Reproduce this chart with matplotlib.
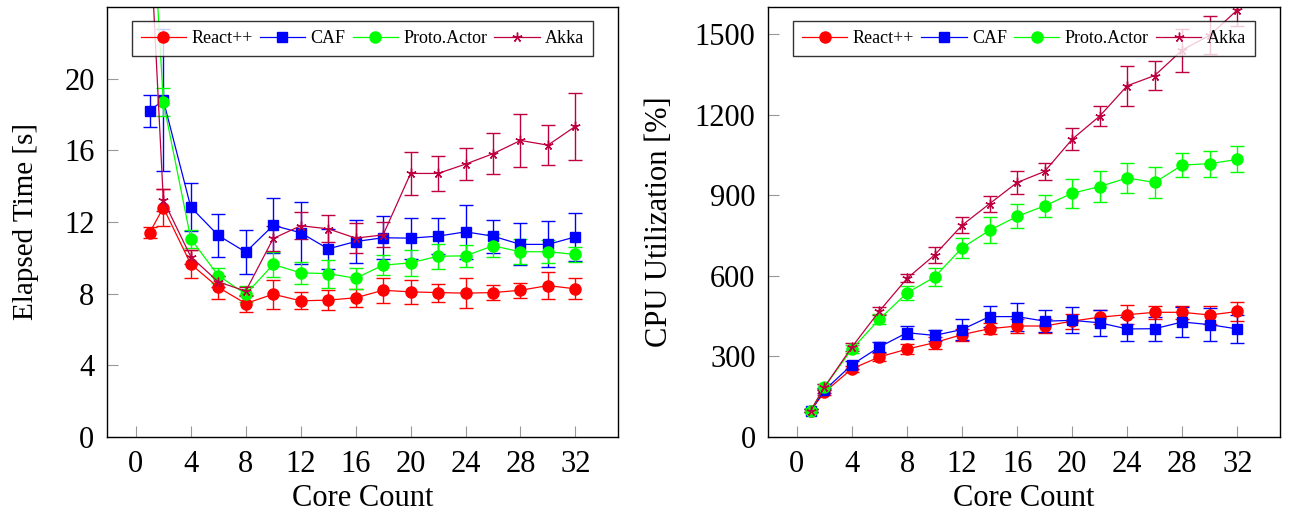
import numpy as np
import matplotlib.pyplot as plt
from matplotlib.lines import Line2D

plt.rcParams['font.family'] = ['Liberation Serif', 'DejaVu Serif']

cores = [1, 2, 4, 6, 8, 10, 12, 14, 16, 18, 20, 22, 24, 26, 28, 30, 32]
series_names = ['React++', 'CAF', 'Proto.Actor', 'Akka']

# elapsed time [s]
time_react = [11.4, 12.8, 9.65, 8.35, 7.45, 7.97, 7.6, 7.64, 7.77, 8.19, 8.1, 8.06, 8.03, 8.06, 8.19, 8.45, 8.27]
time_react_err = [0.3, 1.05, 0.8, 0.63, 0.48, 0.82, 0.48, 0.56, 0.5, 0.7, 0.68, 0.5, 0.85, 0.43, 0.43, 0.77, 0.58]
time_caf = [18.2, 18.8, 12.83, 11.25, 10.32, 11.81, 11.4, 10.5, 10.91, 11.12, 11.1, 11.21, 11.45, 11.21, 10.75, 10.75, 11.17]
time_caf_err = [0.88, 3.95, 1.36, 1.21, 1.21, 1.55, 1.72, 1.13, 1.22, 1.2, 1.15, 1.0, 1.49, 0.92, 1.17, 1.28, 1.36]
time_proto = [32.0, 18.7, 11.06, 9.01, 7.97, 9.63, 9.16, 9.12, 8.86, 9.59, 9.72, 10.09, 10.11, 10.67, 10.34, 10.34, 10.19]
time_proto_err = [1.0, 0.8, 0.5, 0.4, 0.45, 0.7, 0.6, 0.78, 0.58, 0.55, 0.73, 0.7, 0.62, 0.65, 0.7, 0.65, 0.43]
time_akka = [28.5, 13.22, 10.06, 8.66, 8.14, 11.08, 11.79, 11.62, 11.1, 11.28, 14.71, 14.71, 15.23, 15.81, 16.55, 16.29, 17.34]
time_akka_err = [1.0, 0.6, 0.4, 0.3, 0.25, 0.7, 0.75, 0.75, 0.84, 0.7, 1.21, 1.0, 0.88, 1.15, 1.47, 1.13, 1.86]

# CPU utilization [%]
cpu_react = [98, 167, 254, 298, 327, 351, 381, 403, 413, 413, 431, 446, 455, 464, 464, 454, 467]
cpu_react_err = [5, 10, 12, 15, 18, 22, 22, 20, 25, 25, 28, 25, 35, 25, 25, 35, 35]
cpu_caf = [98, 174, 269, 335, 388, 378, 400, 448, 448, 431, 434, 425, 402, 403, 428, 418, 402]
cpu_caf_err = [5, 10, 15, 18, 24, 22, 40, 40, 52, 41, 48, 48, 45, 45, 57, 62, 52]
cpu_proto = [98, 186, 327, 439, 536, 595, 704, 769, 821, 860, 907, 932, 964, 947, 1012, 1017, 1033]
cpu_proto_err = [5, 10, 15, 18, 25, 34, 38, 48, 45, 42, 54, 59, 55, 58, 45, 48, 48]
cpu_akka = [98, 186, 335, 469, 590, 677, 788, 868, 947, 988, 1108, 1194, 1307, 1345, 1440, 1495, 1589]
cpu_akka_err = [5, 10, 15, 15, 15, 31, 29, 30, 42, 33, 40, 36, 74, 55, 80, 71, 60]

colors = ['#ff0000', '#0000ff', '#00ff00', '#bf0040']
markers = ['o', 's', 'o', (5, 2, 0)]
msizes = [8, 7.5, 8, 7]

fig = plt.figure(figsize=(12.89, 5.23), dpi=100)
ax1 = fig.add_axes([107 / 1289, 86 / 523, 511 / 1289, 430 / 523])
ax2 = fig.add_axes([768 / 1289, 86 / 523, 512 / 1289, 430 / 523])


def draw(ax, data, errs):
    handles = []
    for name, y, e, c, m, ms in zip(series_names, data, errs, colors, markers, msizes):
        ax.errorbar(cores, y, yerr=e, color=c, ecolor=c, elinewidth=1.0,
                    capsize=5, capthick=1.0, lw=0.9, marker=m, markersize=ms,
                    markeredgewidth=1.0)
        handles.append(Line2D([], [], color=c, lw=0.9, marker=m, markersize=ms,
                              markeredgewidth=1.0, label=name))
    ax.set_xlim(-2.1, 35.1)
    ax.set_xticks(range(0, 33, 4))
    ax.set_xlabel('Core Count', fontsize=22, labelpad=4)
    ax.tick_params(direction='in', length=8, color='#999999', labelsize=22,
                   pad=9, top=False, right=False)
    for sp in ax.spines.values():
        sp.set_linewidth(1.0)
    leg = ax.legend(handles=handles, loc='upper center',
                    bbox_to_anchor=(0.5, 1 - 14 / 430), borderaxespad=0, ncol=4,
                    fontsize=13, frameon=True, fancybox=False, edgecolor='black',
                    handlelength=2.5, columnspacing=0.4, handletextpad=0.3,
                    borderpad=0.5, numpoints=1)
    leg.get_frame().set_linewidth(1.0)
    leg.set_zorder(10)


draw(ax1, [time_react, time_caf, time_proto, time_akka],
     [time_react_err, time_caf_err, time_proto_err, time_akka_err])
ax1.set_ylim(0, 24)
ax1.set_yticks(range(0, 21, 4))
ax1.set_ylabel('Elapsed Time [s]', fontsize=21, labelpad=18)

draw(ax2, [cpu_react, cpu_caf, cpu_proto, cpu_akka],
     [cpu_react_err, cpu_caf_err, cpu_proto_err, cpu_akka_err])
ax2.set_ylim(0, 1600)
ax2.set_yticks(range(0, 1501, 300))
ax2.set_ylabel('CPU Utilization [%]', fontsize=22, labelpad=15)

fig.savefig('out.png', dpi=100)
